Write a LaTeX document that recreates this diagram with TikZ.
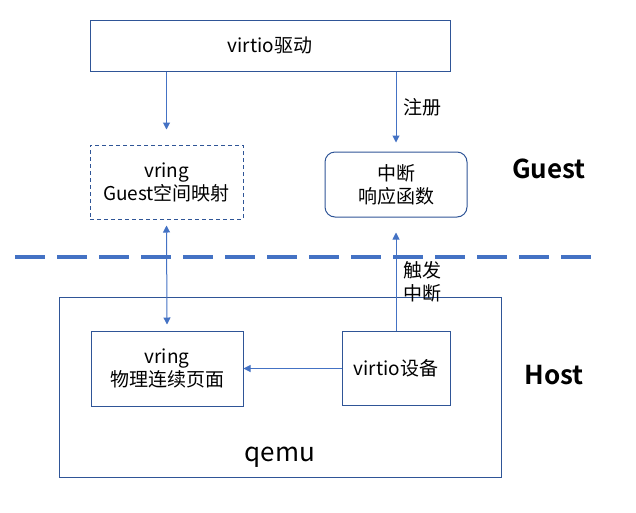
\documentclass[tikz,border=0pt]{standalone}
\usepackage{fontspec}
\setmainfont{Noto Sans CJK SC}[BoldFont={Noto Sans CJK SC Bold}]
\usetikzlibrary{arrows.meta}
\definecolor{boxblue}{HTML}{2F5597}
\definecolor{lineblue}{HTML}{4472C4}
\tikzset{
  blk/.style={draw=boxblue, line width=1pt, inner sep=0pt, align=center},
  arr/.style={draw=lineblue, line width=1pt, -{Triangle[length=7pt,width=7pt]}},
  sidelbl/.style={font=\fontsize{26}{30}\selectfont\bfseries},
}
\begin{document}
\begin{tikzpicture}[x=1pt,y=-1pt,font=\fontsize{19}{23}\selectfont]
  \useasboundingbox (0,0) rectangle (636,512);

  % Drawing qemu frame
  \node [blk, minimum width=442pt, minimum height=180pt] (qemu) at (280,387.5) {};%
  \node [font=\fontsize{26}{30}\selectfont] (qemulbl) at (280,457) {qemu};%

  % Drawing boxes of the guest side
  \node [blk, minimum width=360pt, minimum height=51pt] (drv) at (270,45.5) {virtio驱动};%
  \node [blk, dash pattern=on 4pt off 3pt, minimum width=153pt, minimum height=74pt] (vguest) at (166.5,182) {vring\\Guest空间映射};%
  \node [blk, rounded corners=10pt, minimum width=142pt, minimum height=65pt] (irq) at (396,184.5) {中断\\响应函数};%

  % Drawing boxes of the host side
  \node [blk, minimum width=152pt, minimum height=75pt] (vphys) at (167,368.5) {vring\\物理连续页面};%
  \node [blk, minimum width=108pt, minimum height=74pt] (dev) at (396,368) {virtio设备};%

  % Marking Guest and Host
  \node [sidelbl] (guest) at (549,169) {Guest};%
  \node [sidelbl] (host) at (554,375) {Host};%

  % Drawing border line
  \coordinate (bl) at (15,257);%
  \coordinate (br) at (591,257);%
  \draw [lineblue, line width=4pt, dash pattern=on 30pt off 12pt] (bl) -- (br);%

  % Drawing arrows
  \draw [arr] (drv.south -| vguest.north) -- ([yshift=15pt]vguest.north);%
  \draw [arr] (drv.south -| irq.north) -- ([yshift=9pt]irq.north)
    node [midway, right=4pt] {注册};%
  \draw [arr, {Triangle[length=7pt,width=7pt]}-{Triangle[length=7pt,width=7pt]}]
    ([yshift=-6pt]vguest.south) -- ([yshift=6pt]vphys.north);%
  \draw [arr] (dev.north) -- ([yshift=-15pt]irq.south)
    node [midway, right=4pt, align=left] {触发\\中断};%
  \draw [arr] (dev.west |- vphys.east) -- (vphys.east);%
\end{tikzpicture}
\end{document}
